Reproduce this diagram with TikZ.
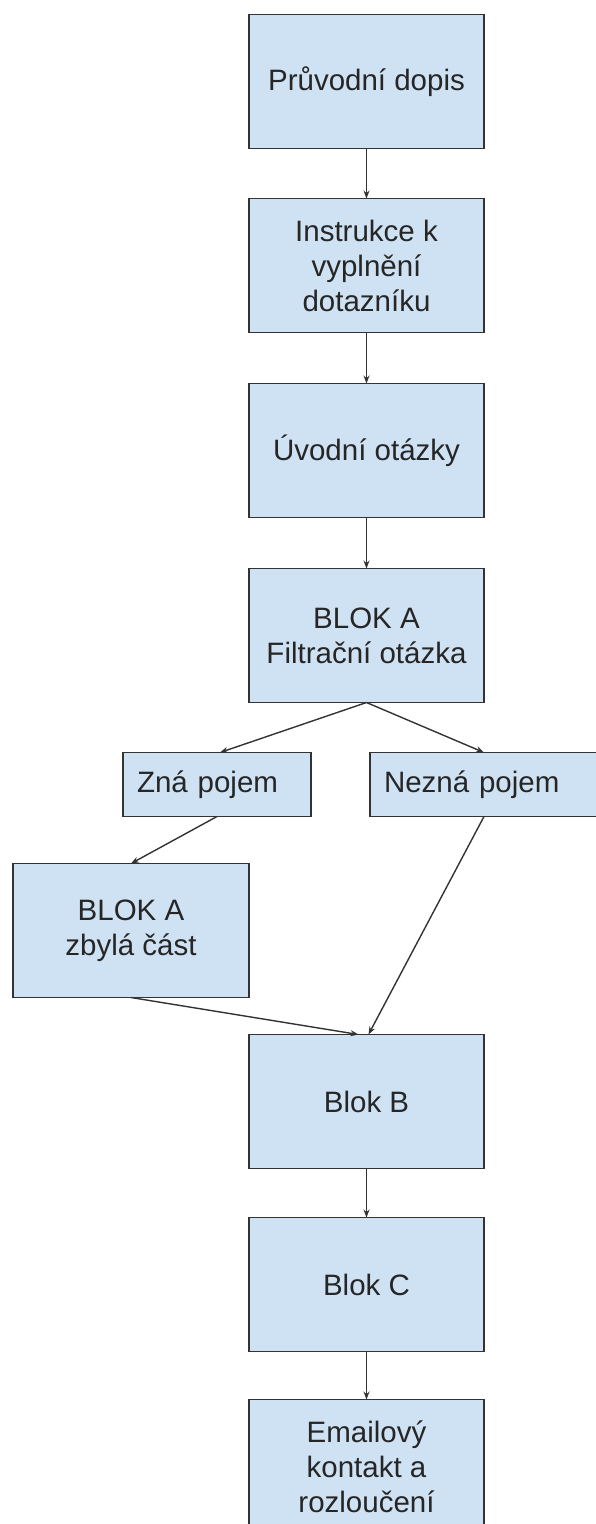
\documentclass[tikz,border=0pt]{standalone}
\usepackage{fontspec}
\setmainfont{Liberation Sans}
\usetikzlibrary{arrows.meta,positioning}
\definecolor{boxfill}{RGB}{207,226,243}
\definecolor{boxline}{RGB}{51,51,51}

\begin{document}
\begin{tikzpicture}[
    node distance=50pt,
    blok/.style={rectangle, minimum width=235pt, minimum height=134pt, outer sep=0pt, text centered, align=center, draw=boxline, fill=boxfill, line width=1.3pt, text=black!85, font=\fontsize{29.5}{35}\selectfont},
    branch/.style={rectangle, minimum height=64pt, outer sep=0pt, align=left, inner xsep=14pt, draw=boxline, fill=boxfill, line width=1.3pt, text=black!85, font=\fontsize{29.5}{35}\selectfont},
    arrow/.style={line width=1.4pt, draw=boxline, ->, >={Stealth[length=8pt,width=6pt]}}
]

% Frame
\useasboundingbox (0,0) rectangle (595pt,-1524pt);

% Cover letter
\node[blok] (pruvodni) at (366.5pt,-81.5pt) {Průvodní dopis};

% Instructions
\node[blok, below=of pruvodni] (instrukce) {Instrukce k\\vyplnění\\dotazníku};

% Intro questions
\node[blok, below=51pt of instrukce] (uvodni) {Úvodní otázky};

% Block A - filter
\node[blok, below=51pt of uvodni] (filtr) {BLOK A\\Filtrační otázka};

% Branches
\node[branch, text width=160pt, below=50pt of filtr, xshift=-149.5pt] (zna) {Zná pojem};
\node[branch, text width=200pt, below=50pt of filtr, xshift=117.5pt] (nezna) {Nezná pojem};

% Block A - rest
\node[blok, minimum width=236pt, below=47pt of zna, xshift=-86pt] (zbyla) {BLOK A\\zbylá část};

% Block B
\node[blok, below=332pt of filtr] (blokb) {Blok B};

% Block C
\node[blok, below=49pt of blokb] (blokc) {Blok C};

% Email contact
\node[blok, below=48pt of blokc] (email) {Emailový\\kontakt a\\rozloučení};

% Arrows
\draw[arrow] (pruvodni) -- (instrukce);
\draw[arrow] (instrukce) -- (uvodni);
\draw[arrow] (uvodni) -- (filtr);
\draw[arrow] (filtr.south) -- ([xshift=3pt]zna.north);
\draw[arrow] (filtr.south) -- (nezna.north);
\draw[arrow] (zna.south) -- (zbyla.north);
\draw[arrow] (zbyla.south) -- ([xshift=-8pt]blokb.north);
\draw[arrow] (nezna.south) -- ([xshift=2pt]blokb.north);
\draw[arrow] (blokb) -- (blokc);
\draw[arrow] (blokc) -- (email);

\end{tikzpicture}
\end{document}
